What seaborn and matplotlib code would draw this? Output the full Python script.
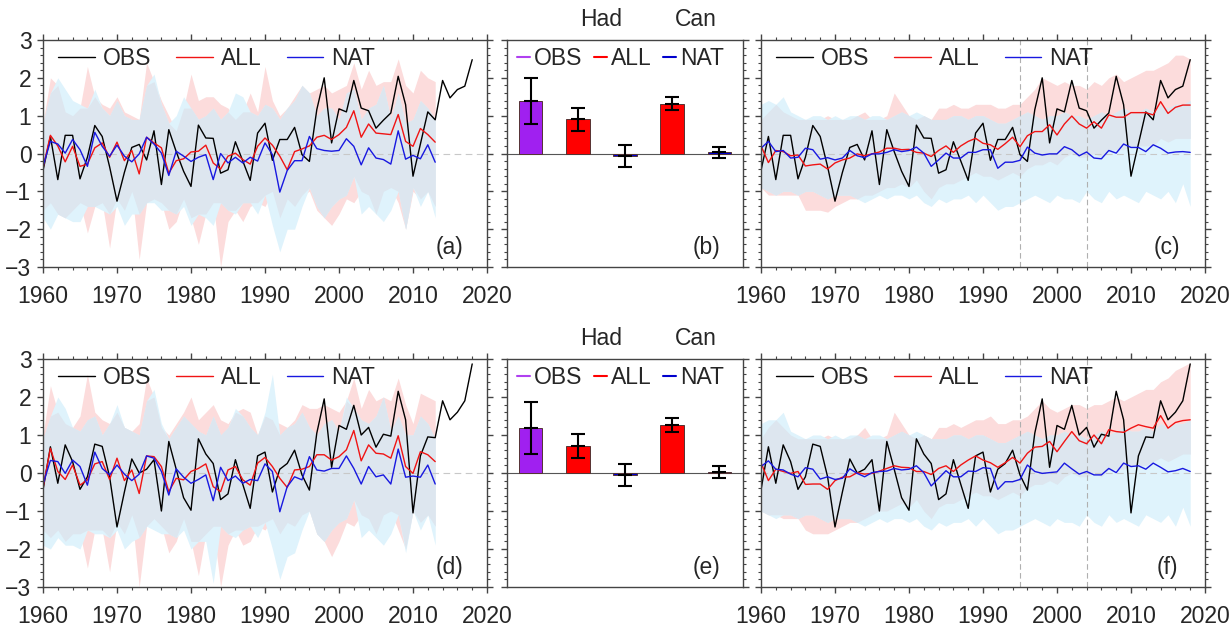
import numpy as np
import seaborn as sns
import matplotlib
matplotlib.use("Agg")
import matplotlib.pyplot as plt
from matplotlib.lines import Line2D
from matplotlib.ticker import MultipleLocator
from matplotlib import transforms

# ---------------- data ----------------
years_obs = np.arange(1960, 2019)   # 1960-2018
years_sim = np.arange(1960, 2014)   # 1960-2013

# top row
obs_top = [-0.45, 0.45, -0.69, 0.48, 0.48, -0.67, -0.10, 0.74, 0.45, -0.35,
           -1.26, -0.50, 0.16, 0.24, -0.17, 0.60, -0.82, 0.63, 0.05, -0.47,
           -0.87, 0.75, 0.41, 0.40, -0.52, -0.43, 0.31, -0.20, -0.71, 0.54,
           0.80, -0.18, 0.37, 0.37, 0.69, -0.03, -0.21, 1.16, 2.00, 0.28,
           1.18, 1.10, 1.93, 1.20, 1.13, 0.67, 0.88, 1.07, 2.04, 1.29,
           -0.60, 0.25, 1.10, 0.89, 1.93, 1.47, 1.69, 1.78, 2.48]

all_a = [-0.38, 0.48, 0.20, -0.22, 0.19, -0.34, -0.28, 0.15, 0.28, -0.10,
         0.30, -0.19, 0.08, -0.54, 0.43, 0.28, 0.15, -0.52, -0.19, -0.14,
         0.04, 0.06, 0.22, -0.25, -0.41, -0.07, 0.01, -0.16, -0.28, 0.19,
         0.41, 0.22, -0.07, -0.43, 0.05, 0.12, 0.20, 0.43, 0.48, 0.37,
         0.50, 0.69, 1.13, 0.43, 0.78, 0.54, 0.52, 0.50, 1.03, 0.32,
         0.19, 0.66, 0.50, 0.30]
nat_a = [-0.34, 0.32, 0.25, 0.01, 0.37, 0.10, -0.34, 0.56, 0.19, -0.07,
         0.22, -0.07, -0.22, -0.01, 0.43, 0.25, 0.01, -0.58, 0.06, -0.07,
         -0.21, -0.10, -0.03, -0.69, 0.00, -0.25, -0.10, -0.25, -0.10, -0.20,
         0.28, -0.03, -1.02, -0.45, -0.19, -0.19, 0.45, 0.13, 0.08, 0.06,
         0.08, 0.39, 0.19, -0.30, 0.15, -0.12, -0.16, -0.28, 0.60, -0.15,
         -0.05, -0.14, 0.23, -0.23]
all_a_hi = [0.8, 2.0, 1.8, 1.1, 1.0, 1.2, 2.3, 1.5, 1.3, 1.2,
            1.5, 1.1, 1.0, 0.9, 2.4, 1.9, 1.4, 1.0, 0.6, 1.2,
            2.1, 1.4, 1.5, 1.5, 1.3, 1.2, 0.9, 1.1, 1.6, 1.1,
            2.3, 1.4, 1.0, 1.2, 1.5, 1.8, 1.6, 1.7, 1.8, 1.6,
            1.7, 1.8, 2.4, 1.7, 2.2, 1.8, 1.9, 1.9, 2.5, 1.8,
            1.6, 2.2, 2.0, 1.9]
all_a_lo = [-1.5, -1.3, -1.6, -1.7, -1.5, -1.3, -2.1, -1.4, -1.3, -2.5,
            -1.2, -1.5, -1.0, -2.8, -1.3, -1.2, -1.3, -2.0, -1.8, -1.2,
            -1.7, -2.4, -1.6, -1.3, -3.0, -1.8, -1.5, -1.8, -1.4, -1.3,
            -1.4, -1.0, -1.7, -1.2, -1.4, -1.1, -1.0, -1.5, -1.7, -1.9,
            -1.6, -1.2, -1.3, -1.0, -1.1, -1.6, -1.0, -0.9, -1.3, -2.0,
            -1.0, -1.2, -1.0, -1.4]
nat_a_hi = [0.8, 1.6, 2.0, 1.7, 1.4, 1.3, 1.2, 1.7, 1.2, 1.0,
            1.4, 1.0, 0.9, 0.9, 1.8, 2.1, 1.3, 0.8, 1.0, 1.5,
            1.2, 0.9, 1.0, 1.2, 0.9, 1.1, 1.6, 1.5, 1.1, 1.0,
            1.3, 1.2, 0.9, 1.2, 1.4, 1.8, 1.6, 1.0, 1.2, 1.2,
            0.9, 1.6, 1.7, 0.9, 1.2, 1.3, 1.8, 0.9, 1.6, 0.8,
            0.9, 1.4, 1.2, 0.9]
nat_a_lo = [-1.7, -2.0, -1.6, -1.7, -1.8, -1.8, -1.4, -1.4, -1.5, -1.6,
            -1.4, -1.9, -1.6, -1.6, -1.3, -1.3, -1.5, -1.5, -1.6, -1.4,
            -1.9, -1.6, -1.7, -1.9, -1.3, -1.5, -1.6, -1.3, -1.3, -1.6,
            -1.1, -1.9, -2.6, -2.0, -2.0, -1.4, -0.9, -1.4, -1.7, -1.4,
            -1.2, -1.1, -0.6, -1.6, -1.4, -1.6, -1.8, -1.5, -1.0, -2.0,
            -0.9, -1.4, -1.0, -1.7]

all_c = [0.20, -0.24, 0.08, 0.05, -0.06, -0.04, -0.33, -0.30, -0.28, -0.41,
         -0.25, -0.17, -0.12, -0.01, -0.06, -0.01, 0.04, 0.14, 0.14, 0.10,
         0.11, 0.03, 0.01, -0.08, 0.08, 0.20, 0.03, 0.20, 0.32, 0.40,
         0.27, 0.23, 0.11, 0.26, 0.43, 0.18, 0.47, 0.58, 0.58, 0.76,
         0.49, 0.78, 0.99, 0.78, 0.67, 0.84, 0.67, 1.02, 0.96, 0.96,
         1.08, 1.08, 1.08, 1.02, 1.37, 1.06, 1.22, 1.28, 1.28]
nat_c = [0.14, 0.32, 0.05, 0.08, -0.12, -0.10, 0.14, 0.10, -0.15, -0.11,
         -0.17, -0.12, 0.08, -0.06, -0.11, -0.01, -0.01, 0.03, 0.10, 0.05,
         0.08, 0.17, 0.01, -0.34, -0.17, 0.01, -0.12, -0.12, 0.03, 0.03,
         0.10, 0.10, -0.39, -0.23, -0.23, -0.18, 0.17, 0.01, -0.04, -0.01,
         -0.01, 0.18, 0.10, -0.06, 0.04, -0.12, -0.14, 0.08, 0.01, 0.25,
         0.16, 0.16, 0.05, 0.23, 0.14, 0.01, 0.04, 0.05, 0.03]
all_c_hi = [0.9, 1.1, 1.3, 1.1, 1.0, 0.9, 0.9, 0.9, 0.9, 1.0,
            0.9, 0.9, 0.9, 1.0, 1.1, 0.9, 0.9, 1.0, 1.6, 1.3,
            1.0, 0.9, 1.0, 0.9, 1.2, 1.2, 1.3, 1.2, 1.2, 1.3,
            1.3, 1.3, 1.2, 1.2, 1.3, 1.3, 1.5, 1.7, 2.0, 1.9,
            1.8, 1.9, 1.8, 1.8, 1.7, 1.9, 1.8, 2.0, 2.1, 1.9,
            2.0, 2.1, 2.2, 2.2, 2.3, 2.4, 2.6, 2.6, 2.5]
all_c_lo = [-0.9, -1.1, -1.1, -1.1, -1.1, -1.1, -1.5, -1.5, -1.5, -1.55,
            -1.4, -1.3, -1.2, -1.2, -1.1, -1.1, -1.0, -0.9, -0.9, -0.8,
            -0.9, -0.7, -1.0, -1.2, -0.9, -0.8, -0.8, -0.7, -0.6, -0.5,
            -0.6, -0.6, -0.7, -0.6, -0.5, -0.6, -0.4, -0.3, -0.3, -0.2,
            -0.3, -0.1, 0.0, -0.1, -0.1, 0.0, -0.1, 0.1, 0.1, 0.1,
            0.2, 0.2, 0.2, 0.2, 0.4, 0.3, 0.4, 0.4, 0.4]
nat_c_hi = [1.3, 1.4, 1.3, 1.5, 1.1, 1.0, 0.9, 1.0, 1.0, 0.9,
            1.0, 0.9, 1.0, 1.0, 0.9, 1.0, 1.0, 0.9, 1.0, 1.1,
            1.0, 1.1, 1.0, 0.9, 0.9, 0.9, 1.0, 1.0, 0.9, 1.0,
            1.0, 0.9, 0.8, 0.8, 0.9, 1.0, 1.1, 1.0, 0.9, 1.0,
            1.0, 1.1, 1.0, 1.0, 0.9, 1.0, 1.1, 1.0, 1.1, 1.2,
            1.1, 1.1, 1.2, 1.1, 1.3, 1.2, 1.3, 1.3, 1.4]
nat_c_lo = [-0.9, -1.0, -1.1, -1.0, -1.0, -1.1, -1.0, -1.0, -1.1, -1.2,
            -1.1, -1.1, -1.1, -1.2, -1.3, -1.2, -1.1, -1.2, -1.1, -1.1,
            -1.2, -1.1, -1.3, -1.4, -1.2, -1.3, -1.2, -1.2, -1.1, -1.3,
            -1.1, -1.3, -1.5, -1.4, -1.4, -1.3, -1.2, -1.1, -1.2, -1.3,
            -1.1, -1.2, -1.2, -1.3, -1.0, -1.2, -1.3, -1.0, -1.2, -1.1,
            -1.2, -1.3, -1.0, -1.1, -1.2, -1.0, -1.3, -0.8, -1.4]

# bottom row
obs_bot = [-0.45, 0.69, -0.27, 0.74, 0.30, -0.43, -0.10, 0.76, 0.70, -0.10,
           -1.42, -0.50, 0.37, 0.00, 0.10, 0.35, -1.00, 0.83, 0.10, -0.65,
           -0.98, 0.90, 0.50, 0.25, -0.70, -0.55, 0.35, -0.30, -0.93, 0.45,
           0.55, -0.50, 0.10, 0.25, 0.60, -0.05, -0.45, 1.05, 1.95, 0.15,
           1.25, 1.15, 1.78, 1.00, 1.20, 0.68, 1.02, 0.97, 2.15, 1.40,
           -1.05, 0.45, 0.95, 0.93, 1.90, 1.40, 1.60, 1.90, 2.87]

all_d = [-0.40, 0.65, 0.04, -0.17, 0.21, -0.32, -0.18, 0.24, 0.30, -0.17,
         0.39, -0.20, 0.08, -0.54, 0.45, 0.43, 0.17, -0.49, -0.14, -0.18,
         0.04, 0.12, 0.24, -0.36, -0.49, 0.08, 0.17, -0.18, -0.32, 0.26,
         0.41, 0.17, -0.14, -0.38, 0.08, 0.10, 0.17, 0.48, 0.48, 0.34,
         0.43, 0.61, 1.12, 0.32, 0.74, 0.52, 0.50, 0.39, 0.98, 0.17,
         -0.01, 0.56, 0.48, 0.30]
nat_d = [-0.30, 0.33, 0.30, -0.01, 0.34, 0.17, -0.32, 0.55, 0.12, -0.05,
         0.21, -0.03, -0.20, -0.03, 0.45, 0.39, 0.04, -0.58, 0.11, -0.11,
         -0.27, -0.17, -0.05, -0.73, 0.15, -0.20, -0.08, -0.27, -0.17, -0.20,
         0.24, 0.04, -1.02, -0.36, -0.10, -0.18, 0.43, 0.08, 0.05, 0.12,
         0.12, 0.45, 0.12, -0.29, 0.17, -0.10, -0.05, -0.29, 0.63, -0.11,
         -0.08, -0.11, 0.21, -0.29]
all_d_hi = [1.0, 2.3, 1.6, 1.3, 1.2, 1.5, 2.6, 1.6, 1.4, 1.3,
            1.6, 1.2, 1.1, 1.3, 2.5, 2.0, 1.2, 1.0, 1.3, 1.6,
            2.0, 1.4, 1.6, 1.8, 1.4, 1.3, 1.6, 1.7, 1.6, 1.0,
            1.5, 1.4, 1.3, 1.2, 1.4, 1.8, 1.7, 1.7, 1.8, 1.7,
            1.6, 1.9, 2.5, 1.7, 2.2, 1.9, 2.0, 1.9, 2.5, 1.8,
            1.3, 2.1, 2.0, 1.9]
all_d_lo = [-1.5, -1.7, -1.5, -1.8, -1.6, -1.6, -2.5, -1.5, -1.5, -2.6,
            -1.3, -1.6, -1.1, -3.0, -1.4, -1.2, -1.4, -2.1, -1.8, -1.2,
            -1.8, -2.7, -1.6, -1.4, -3.0, -1.9, -1.5, -1.9, -1.8, -1.4,
            -1.5, -1.2, -1.6, -1.3, -1.4, -1.1, -1.0, -1.6, -1.8, -2.2,
            -1.8, -1.3, -1.4, -1.1, -1.2, -1.6, -1.1, -1.0, -1.5, -2.0,
            -1.0, -1.3, -1.1, -1.4]
nat_d_hi = [0.9, 1.5, 2.0, 1.7, 1.2, 1.1, 1.4, 1.5, 1.0, 1.3,
            1.8, 1.2, 1.1, 1.0, 1.9, 2.2, 1.3, 0.9, 1.2, 1.5,
            1.3, 1.1, 1.0, 1.5, 1.0, 1.2, 1.7, 1.5, 1.2, 1.0,
            1.6, 2.6, 1.0, 1.2, 1.3, 1.6, 1.2, 1.0, 1.3, 1.4,
            1.1, 2.0, 1.7, 1.4, 1.3, 1.5, 2.0, 1.1, 1.5, 1.0,
            1.0, 1.5, 1.3, 0.9]
nat_d_lo = [-1.9, -2.0, -1.7, -1.9, -1.9, -2.0, -1.5, -1.6, -1.6, -1.7,
            -1.5, -2.0, -1.8, -1.7, -1.4, -1.5, -1.6, -1.6, -1.7, -1.5,
            -2.0, -1.8, -1.8, -2.9, -1.4, -1.6, -1.7, -1.5, -1.4, -1.7,
            -1.3, -2.0, -2.8, -2.2, -2.1, -1.5, -1.0, -1.6, -1.8, -1.5,
            -1.3, -1.2, -0.7, -1.7, -1.5, -1.7, -1.9, -1.6, -1.1, -2.1,
            -1.0, -1.5, -1.1, -1.9]

all_f = [0.27, -0.20, 0.10, 0.04, -0.01, 0.04, -0.30, -0.29, -0.29, -0.43,
         -0.20, -0.11, -0.10, 0.01, -0.03, -0.01, 0.05, 0.12, 0.19, 0.15,
         0.14, 0.04, 0.04, -0.04, 0.12, 0.19, 0.04, 0.21, 0.34, 0.45,
         0.34, 0.27, 0.15, 0.27, 0.41, 0.26, 0.52, 0.68, 0.70, 0.83,
         0.56, 0.83, 1.09, 0.85, 0.77, 1.00, 0.77, 1.14, 1.09, 1.07,
         1.18, 1.27, 1.22, 1.18, 1.51, 1.18, 1.33, 1.38, 1.40]
nat_f = [0.17, 0.32, 0.10, 0.08, -0.03, -0.10, 0.14, 0.10, -0.16, -0.10,
         -0.17, -0.14, 0.11, -0.01, -0.10, 0.01, 0.04, 0.05, 0.12, 0.08,
         0.10, 0.19, 0.01, -0.34, -0.14, 0.06, -0.10, -0.10, 0.05, 0.04,
         0.14, 0.12, -0.43, -0.23, -0.23, -0.17, 0.21, 0.04, -0.01, 0.01,
         0.03, 0.26, 0.11, -0.03, 0.04, -0.05, -0.05, 0.12, 0.01, 0.26,
         0.17, 0.19, 0.10, 0.26, 0.15, 0.03, 0.06, 0.12, 0.04]
all_f_hi = [0.9, 1.2, 1.4, 1.2, 1.0, 0.9, 0.9, 0.9, 0.9, 1.0,
            0.9, 0.9, 0.9, 1.0, 1.2, 0.9, 0.9, 1.0, 1.6, 1.3,
            1.0, 0.9, 1.0, 0.9, 1.2, 1.2, 1.3, 1.2, 1.3, 1.4,
            1.4, 1.5, 1.3, 1.3, 1.4, 1.4, 1.5, 1.7, 1.9, 1.7,
            1.6, 1.7, 1.8, 1.8, 1.7, 1.8, 1.8, 1.9, 2.0, 1.9,
            2.0, 2.1, 2.2, 2.2, 2.4, 2.5, 2.7, 2.8, 2.9]
all_f_lo = [-1.0, -1.1, -1.1, -1.2, -1.2, -1.2, -1.5, -1.6, -1.6, -1.6,
            -1.5, -1.4, -1.3, -1.3, -1.2, -1.1, -1.0, -1.0, -0.9, -0.8,
            -0.9, -0.7, -1.0, -1.2, -0.9, -0.8, -0.8, -0.7, -0.6, -0.5,
            -0.6, -0.6, -0.7, -0.6, -0.5, -0.6, -0.4, -0.3, -0.3, -0.2,
            -0.3, -0.1, 0.0, -0.1, -0.1, 0.0, -0.1, 0.1, 0.1, 0.1,
            0.2, 0.2, 0.2, 0.3, 0.4, 0.3, 0.4, 0.5, 0.5]
nat_f_hi = [1.3, 1.4, 1.4, 1.6, 1.1, 1.0, 0.9, 1.0, 1.0, 0.9,
            1.0, 0.9, 1.0, 1.0, 0.9, 1.0, 1.0, 0.9, 1.0, 1.1,
            1.0, 1.1, 1.0, 0.9, 0.9, 0.9, 1.0, 1.0, 0.9, 1.0,
            1.0, 0.9, 0.8, 0.8, 0.9, 1.0, 1.1, 1.0, 0.9, 1.0,
            1.0, 1.1, 1.0, 1.0, 0.9, 1.0, 1.1, 1.0, 1.1, 1.2,
            1.1, 1.1, 1.2, 1.1, 1.3, 1.2, 1.3, 1.3, 1.4]
nat_f_lo = [-1.0, -1.1, -1.2, -1.1, -1.1, -1.2, -1.1, -1.1, -1.2, -1.3,
            -1.2, -1.2, -1.2, -1.3, -1.4, -1.3, -1.2, -1.3, -1.2, -1.2,
            -1.3, -1.2, -1.4, -1.5, -1.3, -1.4, -1.3, -1.3, -1.2, -1.4,
            -1.2, -1.4, -1.6, -1.5, -1.5, -1.4, -1.3, -1.2, -1.3, -1.4,
            -1.2, -1.3, -1.3, -1.4, -1.1, -1.3, -1.4, -1.1, -1.3, -1.2,
            -1.3, -1.4, -1.1, -1.2, -1.3, -1.1, -1.4, -0.9, -1.4]

# bar panels: OBS, Had ALL, Had NAT, Can ALL, Can NAT
bar_names = ["OBS", "Had ALL", "Had NAT", "Can ALL", "Can NAT"]
bar_top = [1.39, 0.90, -0.07, 1.32, 0.03]
err_top = [0.61, 0.30, 0.29, 0.17, 0.15]
bar_bot = [1.19, 0.71, -0.05, 1.27, 0.03]
err_bot = [0.69, 0.32, 0.30, 0.19, 0.15]

# ---------------- style ----------------
sns.set_theme(style="ticks")
plt.rcParams["font.family"] = ["Liberation Sans", "DejaVu Sans"]

FS = 16.5
COL_ALL = "#f01414"
COL_NAT = "#1818e0"
C_PINK = "#fcdcdc"
C_BLUE = "#dff3fc"
C_BOTH = "#dde6ef"
BAR_COLORS = ["#a020f0", "#ff0000", "#0000cd", "#ff0000", "#0000cd"]


def style_axes(ax, ylabels=False, xlabels=True):
    ax.set_ylim(-3, 3)
    ax.yaxis.set_major_locator(MultipleLocator(1))
    ax.yaxis.set_minor_locator(MultipleLocator(0.2))
    ax.tick_params(which="both", direction="out", top=True, right=True,
                   left=True, bottom=True, color="#444444")
    ax.tick_params(which="major", length=4.3, width=1.0)
    ax.tick_params(which="minor", length=2.2, width=0.8)
    ax.tick_params(axis="y", labelleft=ylabels, labelright=False, pad=4,
                   labelsize=FS)
    ax.tick_params(axis="x", labelbottom=xlabels, labeltop=False, pad=9,
                   labelsize=FS)
    for s in ax.spines.values():
        s.set_color("#444444")
        s.set_linewidth(1.0)
    ax.set_xlabel("")
    ax.set_ylabel("")


def draw_bands(ax, x, a_lo, a_hi, n_lo, n_hi):
    a_lo, a_hi, n_lo, n_hi = map(np.asarray, (a_lo, a_hi, n_lo, n_hi))
    ax.fill_between(x, a_lo, a_hi, color=C_PINK, lw=0, zorder=0.5)
    ax.fill_between(x, n_lo, n_hi, color=C_BLUE, lw=0, zorder=0.6)
    lo = np.maximum(a_lo, n_lo)
    hi = np.minimum(a_hi, n_hi)
    ax.fill_between(x, lo, hi, where=hi > lo, interpolate=True,
                    color=C_BOTH, lw=0, zorder=0.7)


def series_panel(ax, obs, x_sim, all_, nat, bands, tag, ylabels, vlines):
    draw_bands(ax, x_sim, *bands)
    ax.axhline(0, color="#c8c8c8", lw=0.8, ls=(0, (6, 4)), zorder=0.8)
    if vlines:
        for yr in (1995, 2004):
            ax.axvline(yr, color="#b0b0b0", lw=0.8, ls=(0, (5, 3)), zorder=0.9)
    sns.lineplot(x=years_obs, y=obs, color="black", lw=1.0, label="OBS", ax=ax)
    sns.lineplot(x=x_sim, y=all_, color=COL_ALL, lw=1.0, label="ALL", ax=ax)
    sns.lineplot(x=x_sim, y=nat, color=COL_NAT, lw=1.0, label="NAT", ax=ax)
    ax.set_xlim(1960, 2020)
    ax.xaxis.set_major_locator(MultipleLocator(10))
    ax.xaxis.set_minor_locator(MultipleLocator(2))
    style_axes(ax, ylabels=ylabels)
    ax.legend(loc="upper left", bbox_to_anchor=(0.018, 1.0), ncol=3,
              frameon=False, fontsize=FS, handlelength=1.6,
              handletextpad=0.35, columnspacing=1.1, borderaxespad=0,
              borderpad=0.3)
    ax.text(0.915, 0.086, tag, transform=ax.transAxes, ha="center",
            va="center", fontsize=FS)


def bar_panel(ax, vals, errs, tag):
    sns.barplot(x=bar_names, y=vals, hue=bar_names, palette=BAR_COLORS,
                saturation=1, width=0.5, edgecolor="#553333", linewidth=0.7,
                legend=False, ax=ax)
    ax.axhline(0, color="#555555", lw=0.8, zorder=0.5)
    ax.errorbar(np.arange(len(bar_names)), vals, yerr=errs, fmt="_",
                color="black", ms=9.5, mew=1.5, elinewidth=1.5,
                capsize=4.7, capthick=1.5, zorder=5)
    ax.set_xlim(-0.5, len(bar_names) - 0.5)
    ax.set_xticks([])
    style_axes(ax, ylabels=False, xlabels=False)
    ax.tick_params(axis="x", which="both", top=False, bottom=False)
    handles = [Line2D([], [], color="#b040f0", lw=1.5),
               Line2D([], [], color="#ff0000", lw=1.5),
               Line2D([], [], color="#0000cd", lw=1.5)]
    ax.legend(handles, ["OBS", "ALL", "NAT"], loc="upper left",
              bbox_to_anchor=(0.013, 1.0), ncol=3, frameon=False,
              fontsize=FS, handlelength=0.55, handletextpad=0.2,
              columnspacing=0.5, borderaxespad=0, borderpad=0.3)
    trans = transforms.blended_transform_factory(ax.transData, ax.transAxes)
    ax.text(1.5, 1.09, "Had", transform=trans, ha="center", va="center",
            fontsize=FS)
    ax.text(3.5, 1.09, "Can", transform=trans, ha="center", va="center",
            fontsize=FS)
    ax.text(0.845, 0.086, tag, transform=ax.transAxes, ha="center",
            va="center", fontsize=FS)


fig = plt.figure(figsize=(12.3, 6.28), dpi=100)
W, H = 1230.0, 628.0


def add_ax(l, r, t, b):
    return fig.add_axes([l / W, 1 - b / H, (r - l) / W, (b - t) / H])


ax_a = add_ax(43, 487, 40, 267)
ax_b = add_ax(507, 743, 40, 267)
ax_c = add_ax(761, 1205, 40, 267)
ax_d = add_ax(43, 487, 359, 587)
ax_e = add_ax(507, 743, 359, 587)
ax_f = add_ax(761, 1205, 359, 587)

series_panel(ax_a, obs_top, years_sim, all_a, nat_a,
             (all_a_lo, all_a_hi, nat_a_lo, nat_a_hi), "(a)", True, False)
bar_panel(ax_b, bar_top, err_top, "(b)")
series_panel(ax_c, obs_top, years_obs, all_c, nat_c,
             (all_c_lo, all_c_hi, nat_c_lo, nat_c_hi), "(c)", False, True)
series_panel(ax_d, obs_bot, years_sim, all_d, nat_d,
             (all_d_lo, all_d_hi, nat_d_lo, nat_d_hi), "(d)", True, False)
bar_panel(ax_e, bar_bot, err_bot, "(e)")
series_panel(ax_f, obs_bot, years_obs, all_f, nat_f,
             (all_f_lo, all_f_hi, nat_f_lo, nat_f_hi), "(f)", False, True)

fig.savefig("out.png", dpi=100)
